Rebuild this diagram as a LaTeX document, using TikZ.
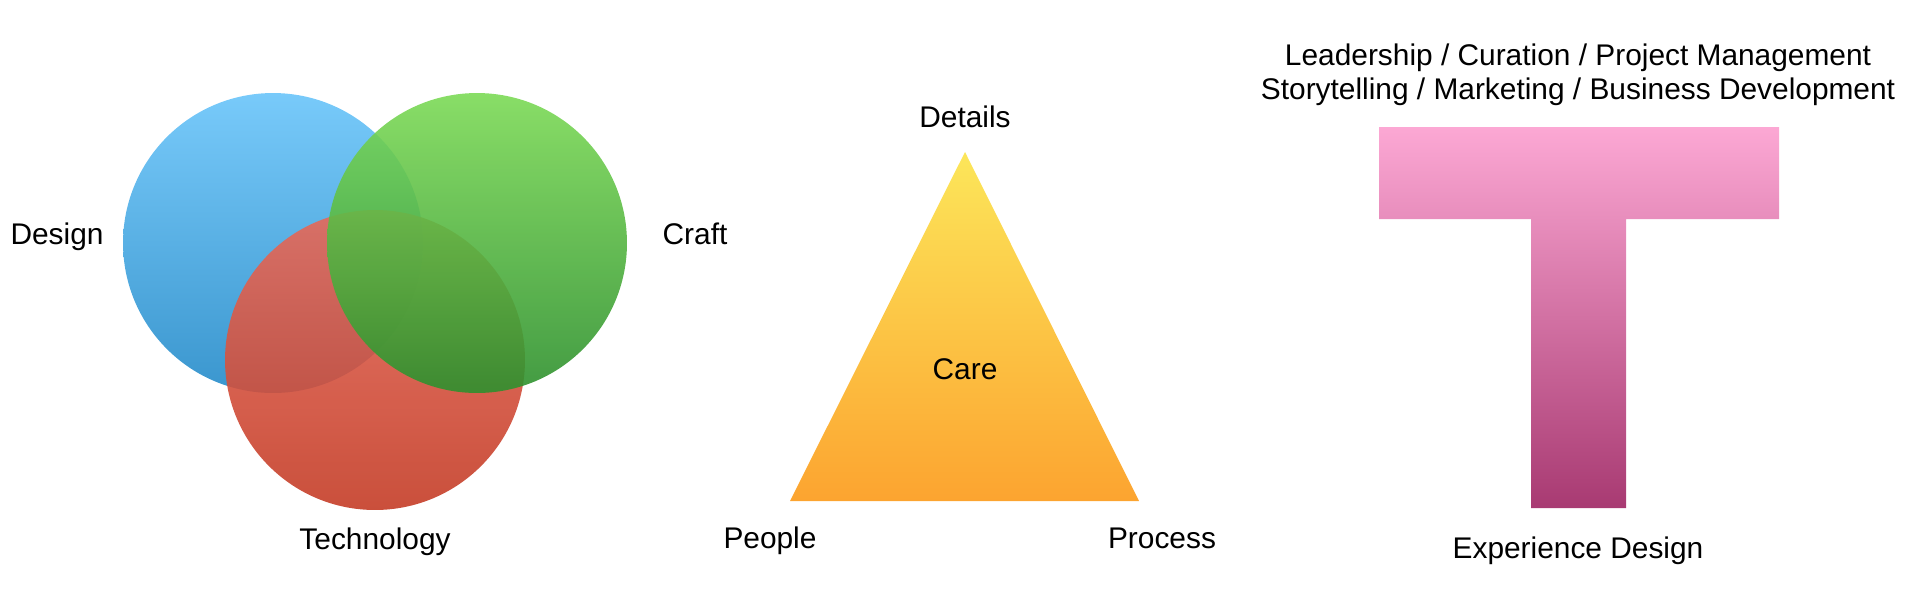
\documentclass[tikz,border=0pt]{standalone}
\usepackage{fontspec}
\setmainfont{Liberation Sans}
\definecolor{bluetop}{HTML}{78CAFA}
\definecolor{bluebot}{HTML}{3A96CE}
\definecolor{greentop}{HTML}{7CDA56}
\definecolor{greenbot}{HTML}{2E902E}
\definecolor{redtop}{HTML}{E66A5A}
\definecolor{redbot}{HTML}{C43C26}
\definecolor{yeltop}{HTML}{FCE65A}
\definecolor{orabot}{HTML}{FCA430}
\definecolor{pinktop}{HTML}{FCA8D4}
\definecolor{pinkbot}{HTML}{A83A72}
\tikzset{
  lbl/.style={font=\fontsize{17}{21}\selectfont, inner sep=0pt, anchor=base},
  blob/.style={fill opacity=0.9},
}
\begin{document}
\begin{tikzpicture}[x=0.02cm,y=-0.02cm]
  \useasboundingbox (0,0) rectangle (1920,600);
  % Panel (a): three overlapping circles
  \begin{scope}
    \shade[top color=bluetop, bottom color=bluebot] (273,243) circle[radius=3cm];
    \shade[blob, top color=redtop, bottom color=redbot] (375,360) circle[radius=3cm];
    \shade[blob, top color=greentop, bottom color=greenbot] (477,243) circle[radius=3cm];
    \node[lbl] (design) at (57,244) {Design};
    \node[lbl] (craft) at (695,244) {Craft};
    \node[lbl] (tech) at (375,549) {Technology};
  \end{scope}
  % Panel (b): triangle
  \begin{scope}
    \shade[top color=yeltop, bottom color=orabot] (965,152) -- (1139,501) -- (790,501) -- cycle;
    \node[lbl] (details) at (965,127) {Details};
    \node[lbl] (care) at (965,379) {Care};
    \node[lbl] (people) at (770,548) {People};
    \node[lbl] (process) at (1162,548) {Process};
  \end{scope}
  % Panel (c): T shape
  \begin{scope}
    \shade[top color=pinktop, bottom color=pinkbot]
      (1379,127) -- (1779,127) -- (1779,219) -- (1626,219) -- (1626,508)
      -- (1531,508) -- (1531,219) -- (1379,219) -- cycle;
    \node[lbl] (lead) at (1578,65.5) {Leadership / Curation / Project Management};
    \node[lbl] (story) at (1578,99.5) {Storytelling / Marketing / Business Development};
    \node[lbl] (xd) at (1578,558) {Experience Design};
  \end{scope}
\end{tikzpicture}
\end{document}
